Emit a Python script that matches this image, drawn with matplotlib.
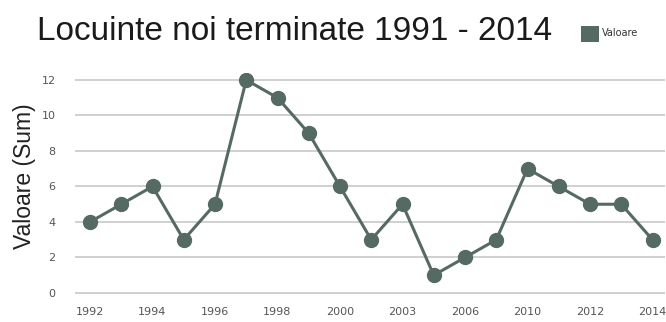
import matplotlib
matplotlib.use("Agg")
import matplotlib.pyplot as plt
from matplotlib.patches import Rectangle

years = ["1992", "1993", "1994", "1995", "1996", "1997", "1998", "1999", "2000",
         "2001", "2003", "2004", "2006", "2008", "2010", "2011", "2012", "2013", "2014"]
values = [4, 5, 6, 3, 5, 12, 11, 9, 6, 3, 5, 1, 2, 3, 7, 6, 5, 5, 3]
title = "Locuinte noi terminate 1991 - 2014"
ylabel = "Valoare (Sum)"
series_name = "Valoare"

color = "#566a64"
W, H = 666, 322
fig = plt.figure(figsize=(W / 100, H / 100), dpi=100)
fig.patch.set_facecolor("white")

left, right = 75 / W, 665 / W
bottom, top = (H - 298.3) / H, (H - 72.9) / H
ax = fig.add_axes([left, bottom, right - left, top - bottom])

x = list(range(len(years)))
ax.plot(x, values, color=color, linewidth=2.2, marker="o", markersize=10,
        markerfacecolor=color, markeredgecolor=color, zorder=3)

ax.set_xlim(-0.48, 18.4)
ax.set_ylim(-0.3, 12.4)
ax.set_yticks([0, 2, 4, 6, 8, 10, 12])
ax.set_xticks(x[::2])
ax.set_xticklabels(years[::2])
ax.grid(axis="y", color="#c8c8c8", linewidth=1.2)
ax.set_axisbelow(True)
for s in ax.spines.values():
    s.set_visible(False)
ax.tick_params(length=0, labelsize=8, labelcolor="#555555")
ax.tick_params(axis="x", pad=6)
ax.tick_params(axis="y", pad=14)

fig.text(25 / W, 1 - 176 / H, ylabel, fontsize=16.5, rotation=90, ha="center", va="center",
         color="#222222", family="Liberation Sans")
fig.text(295 / W, 1 - 31 / H, title, fontsize=24, ha="center", va="center",
         color="#1a1a1a", family="Liberation Sans")
fig.patches.append(Rectangle((581 / W, 1 - 42 / H), 18 / W, 16 / H,
                             transform=fig.transFigure, facecolor=color, edgecolor="none"))
fig.text(602 / W, 1 - 33 / H, series_name, fontsize=7, ha="left", va="center", color="#333333")

fig.savefig("out.png", dpi=100)
